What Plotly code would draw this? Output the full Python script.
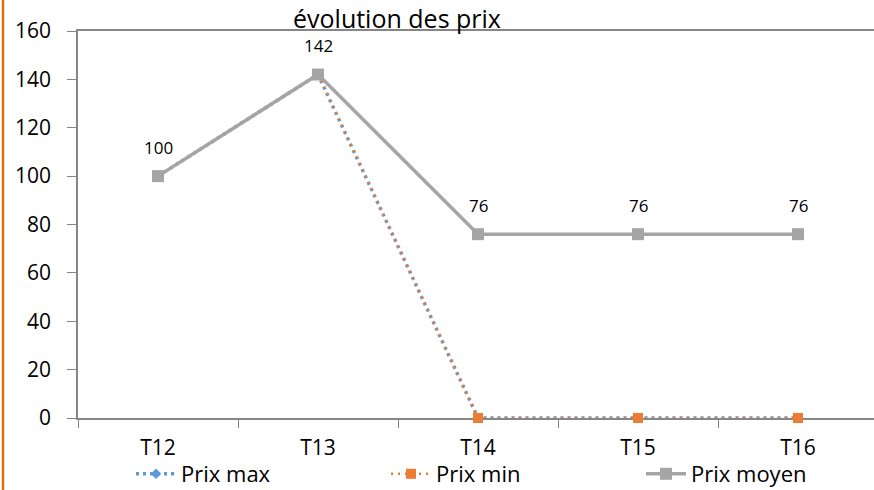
import plotly.graph_objects as go

categories = ["T12", "T13", "T14", "T15", "T16"]
prix_max = [100, 142, 0, 0, 0]
prix_min = [100, 142, 0, 0, 0]
prix_moyen = [100, 142, 76, 76, 76]
y_ticks = [0, 20, 40, 60, 80, 100, 120, 140, 160]
title_text = "évolution des prix"

W, H = 874, 490
FONT = "Open Sans, Noto Sans, sans-serif"

fig = go.Figure()
fig.add_trace(go.Scatter(
    x=categories, y=prix_max, name="Prix max", mode="lines+markers",
    line=dict(color="#5B9BD5", width=3.5, dash="3px,4px"),
    marker=dict(symbol="diamond", size=8, color="#5B9BD5"), cliponaxis=False))
fig.add_trace(go.Scatter(
    x=categories, y=prix_min, name="Prix min", mode="lines+markers",
    line=dict(color="#ED7D31", width=2.5, dash="2px,5px"),
    marker=dict(symbol="square", size=10, color="#ED7D31"), cliponaxis=False))
fig.add_trace(go.Scatter(
    x=categories, y=prix_moyen, name="Prix moyen", mode="lines+markers",
    line=dict(color="#A5A5A5", width=3.5),
    marker=dict(symbol="square", size=12, color="#A5A5A5"), cliponaxis=False))

for c, v in zip(categories, prix_moyen):
    fig.add_annotation(x=c, y=v, xref="x", yref="y", text=str(v),
                       showarrow=False, yshift=29,
                       font=dict(family=FONT, size=17, color="#000000"))

x0 = 78 / W
fig.update_layout(
    width=W, height=H,
    margin=dict(l=0, r=0, t=0, b=0, pad=0, autoexpand=False),
    paper_bgcolor="white", plot_bgcolor="white",
    font=dict(family=FONT, color="#000000"),
    showlegend=True,
    legend=dict(orientation="h", x=131 / W, y=(H - 474) / H,
                xanchor="left", yanchor="middle",
                entrywidth=200, itemwidth=40, tracegroupgap=0,
                font=dict(family=FONT, size=22, color="#000000"),
                bgcolor="rgba(0,0,0,0)"),
    xaxis=dict(domain=[x0, 1], range=[-0.5, 4.475], type="category",
               showgrid=False, showline=True, linecolor="#868686", linewidth=1.5,
               mirror=True, ticks="outside", ticklen=8, tickcolor="#868686",
               tickson="boundaries", tickfont=dict(family=FONT, size=21),
               ticklabelstandoff=10, zeroline=False, layer="below traces"),
    yaxis=dict(domain=[(H - 418) / H, (H - 31) / H], range=[0, 160],
               tickvals=y_ticks, showgrid=False, showline=True,
               linecolor="#868686", linewidth=1.5, ticks="outside", ticklen=9,
               tickcolor="#868686", tickfont=dict(family=FONT, size=21),
               ticklabelstandoff=12, zeroline=False, layer="below traces"),
)
fig.add_annotation(xref="paper", yref="paper", x=397 / W, y=(H - 18) / H,
                   text=title_text, showarrow=False, xanchor="center",
                   yanchor="middle", font=dict(family=FONT, size=25, color="#000000"))
fig.add_shape(type="line", xref="paper", yref="paper", x0=3 / W, x1=3 / W,
              y0=0, y1=1, line=dict(color="#E46C0A", width=2.5))

fig.write_html("out.html", config={"displayModeBar": False},
               post_script="document.body.style.margin='0';")
